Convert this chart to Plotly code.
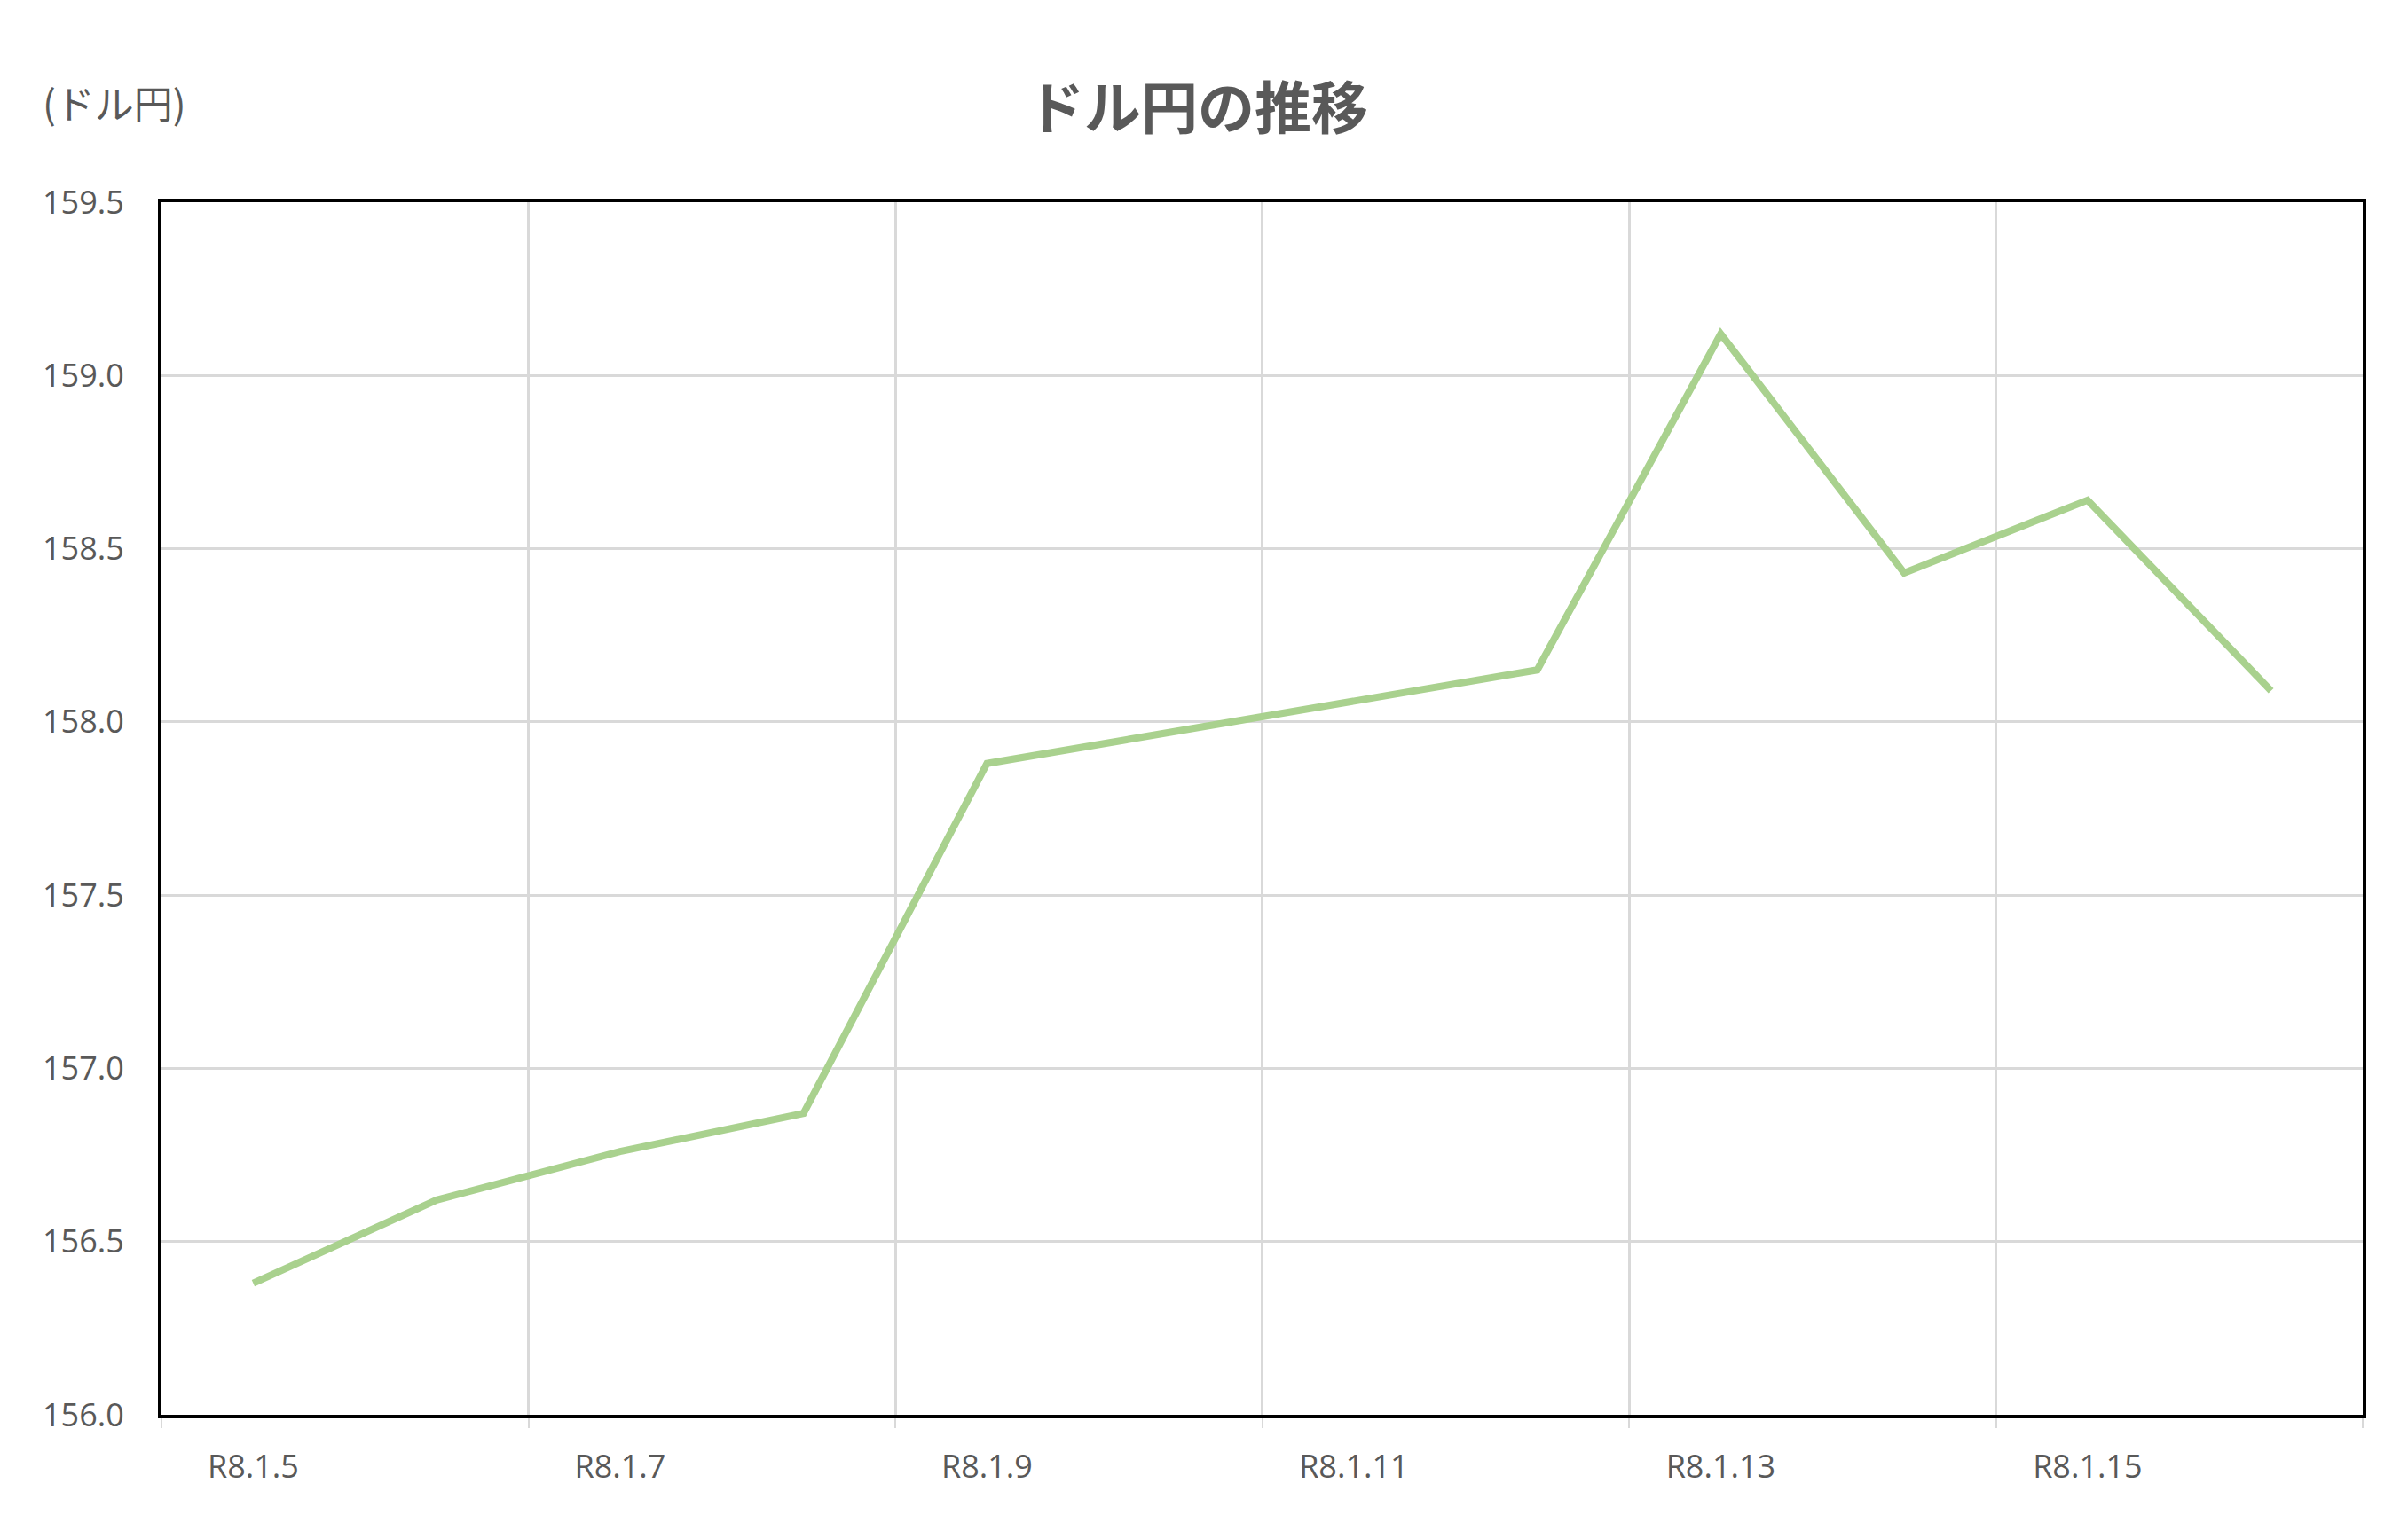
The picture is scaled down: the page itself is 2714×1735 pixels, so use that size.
import plotly.graph_objects as go

# Daily USD/JPY closing values
dates = ['R8.1.5', 'R8.1.6', 'R8.1.7', 'R8.1.8', 'R8.1.9', 'R8.1.10',
         'R8.1.11', 'R8.1.12', 'R8.1.13', 'R8.1.14', 'R8.1.15', 'R8.1.16']
usd_jpy = [156.38, 156.62, 156.76, 156.87, 157.88, 157.97,
           158.06, 158.15, 159.12, 158.43, 158.64, 158.09]
y_ticks = [156.0, 156.5, 157.0, 157.5, 158.0, 158.5, 159.0, 159.5]

text_color = '#595959'
grid_color = '#D9D9D9'

fig = go.Figure()
fig.add_trace(go.Scatter(x=dates, y=usd_jpy, mode='lines',
                         line=dict(color='#A9D18E', width=8),
                         showlegend=False))

# page body has an 8px margin, so margins are shifted a bit
fig.update_layout(
    width=2714, height=1735,
    margin=dict(l=174, r=59, t=220, b=148),
    paper_bgcolor='white', plot_bgcolor='white',
    font=dict(family='Open Sans, Noto Sans CJK JP', color=text_color, size=36),
    title=dict(text='<b>ドル円の推移</b>', x=0.4945, y=0.934,
               xanchor='center', yanchor='middle',
               font=dict(family='Noto Sans CJK JP', size=64, color=text_color)),
)

# Category axis: labels every other day, grid on boundaries
fig.update_xaxes(
    type='category', tickson='boundaries', dtick=2, range=[-0.5, 11.5],
    showgrid=True, gridcolor=grid_color, gridwidth=2.5,
    ticks='outside', ticklen=11, tickcolor=grid_color, tickwidth=2,
    showline=True, linecolor='black', linewidth=4, mirror=True,
    ticklabelstandoff=24,
)
fig.update_yaxes(
    range=[156, 159.5], tickvals=y_ticks, ticktext=[f'{v:.1f}' for v in y_ticks],
    showgrid=True, gridcolor=grid_color, gridwidth=2.5, zeroline=False,
    showline=True, linecolor='black', linewidth=4, mirror=True,
    ticks='', ticklabelstandoff=31,
)

# unit label top-left
fig.add_annotation(text='(ドル円)', xref='paper', yref='paper',
                   x=-0.055, y=1.083, xanchor='left', yanchor='middle',
                   showarrow=False,
                   font=dict(family='Noto Sans CJK JP', size=44, color=text_color))

fig.write_html('out.html')
